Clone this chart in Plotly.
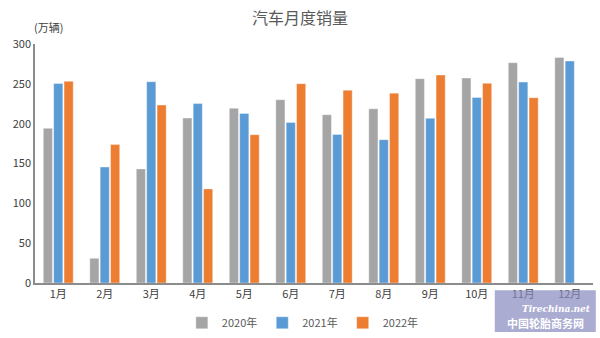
import plotly.graph_objects as go

months = ["1月", "2月", "3月", "4月", "5月", "6月", "7月", "8月", "9月", "10月", "11月", "12月"]
sales_2020 = [194.1, 31.0, 143.2, 207.0, 219.4, 230.1, 211.2, 218.6, 256.5, 257.3, 276.5, 283.1]
sales_2021 = [250.3, 145.5, 252.6, 225.2, 212.8, 201.5, 186.4, 179.9, 206.7, 232.9, 252.2, 278.6]
sales_2022 = [253.1, 173.7, 223.3, 118.1, 186.2, 250.2, 242.0, 238.3, 261.0, 250.6, 232.6, None]

series = [("2020年", sales_2020, "#A5A5A5"),
          ("2021年", sales_2021, "#5B9BD5"),
          ("2022年", sales_2022, "#ED7D31")]

fig = go.Figure()
for name, vals, color in series:
    fig.add_trace(go.Bar(x=months, y=vals, name=name,
                         marker=dict(color=color, line=dict(color="rgba(255,255,255,0.6)", width=0.6))))

font_family = "Noto Sans CJK SC, DejaVu Sans, sans-serif"
fig.update_layout(
    width=600, height=338,
    margin=dict(l=35, r=7, t=44, b=55, autoexpand=False),
    paper_bgcolor="white", plot_bgcolor="white",
    barmode="group", bargap=0.33, bargroupgap=0.12,
    font=dict(family=font_family, size=11, color="#595959"),
    title=dict(text="汽车月度销量", x=0.5, xanchor="center", y=0.945, yanchor="middle",
               font=dict(size=16, color="#595959", family=font_family)),
    xaxis=dict(showline=True, linecolor="#8C8C8C", linewidth=1.5, showgrid=False,
               ticks="", tickfont=dict(size=11, color="#404040")),
    yaxis=dict(range=[0, 300], dtick=50, showline=True, linecolor="#8C8C8C", linewidth=1.5,
               showgrid=False, zeroline=False, ticks="", tickfont=dict(size=11, color="#404040")),
    legend=dict(orientation="h", x=0.48, xanchor="center", yref="container", y=0.045, yanchor="middle",
                font=dict(size=11, color="#595959"), itemwidth=30, traceorder="normal"),
    showlegend=True,
)

fig.add_annotation(text="(万辆)", xref="paper", yref="paper", x=-0.005, y=1.03,
                   xanchor="left", yanchor="bottom", showarrow=False,
                   font=dict(size=11, color="#404040", family=font_family))

# watermark (semi-transparent box in the lower-right corner)
fig.add_shape(type="rect", xref="paper", yref="paper", x0=0.824, x1=1.005, y0=-0.03, y1=-0.205,
              fillcolor="rgba(135,137,190,0.7)", line=dict(width=0), layer="above")
fig.add_annotation(text="<i><b>Tirechina.net</b></i>", xref="paper", yref="paper", x=0.935, y=-0.11,
                   xanchor="center", yanchor="middle",
                   showarrow=False, font=dict(size=9, color="white", family="DejaVu Serif"))
fig.add_annotation(text="<b>中国轮胎商务网</b>", xref="paper", yref="paper", x=0.915, y=-0.168,
                   xanchor="center", yanchor="middle",
                   showarrow=False, font=dict(size=11, color="white", family=font_family))

fig.write_html("out.html")
